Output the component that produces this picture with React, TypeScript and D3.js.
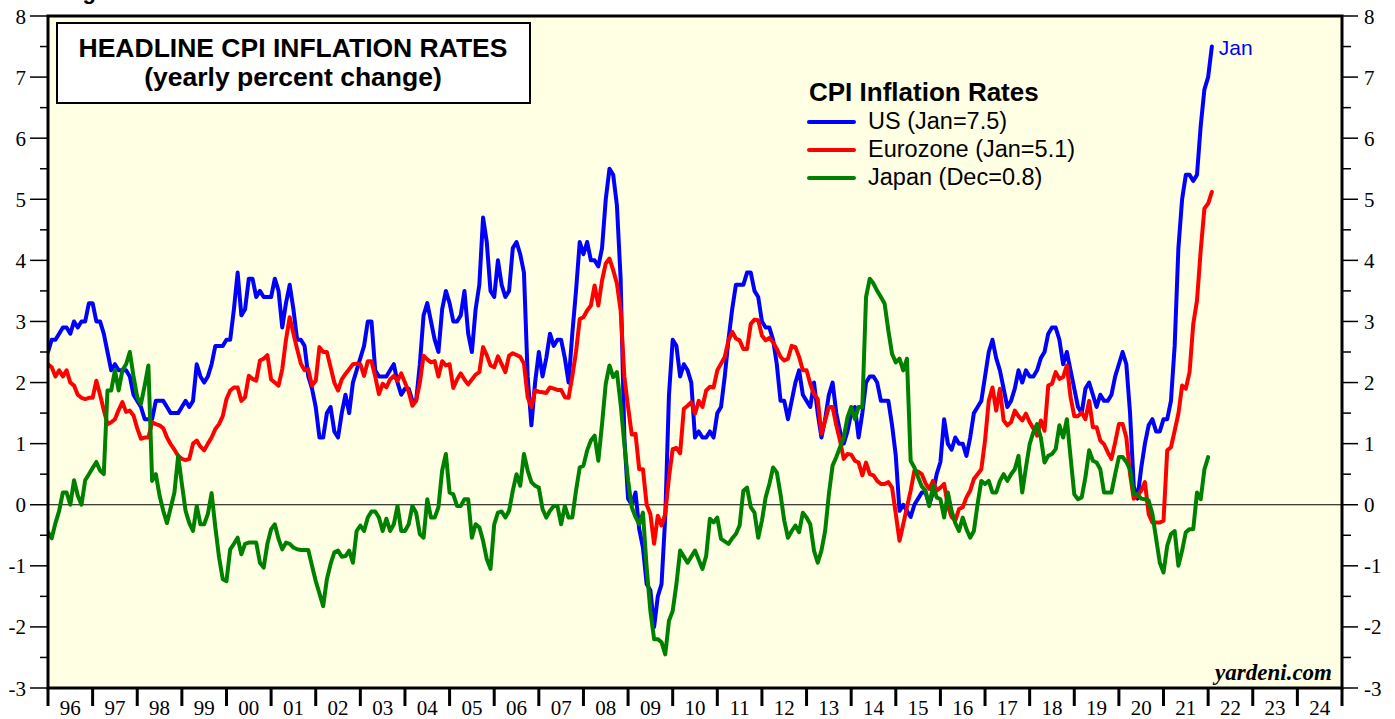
import * as d3 from 'd3'

// yearly % change, monthly, first value is Dec 1995
const usCpi = [
  2.5,
  2.7, 2.7, 2.8, 2.9, 2.9, 2.8, 3.0, 2.9, 3.0, 3.0, 3.3, 3.3, // 96
  3.0, 3.0, 2.8, 2.5, 2.2, 2.3, 2.2, 2.2, 2.2, 2.1, 1.8, 1.7, // 97
  1.6, 1.4, 1.4, 1.4, 1.7, 1.7, 1.7, 1.6, 1.5, 1.5, 1.5, 1.6, // 98
  1.7, 1.6, 1.7, 2.3, 2.1, 2.0, 2.1, 2.3, 2.6, 2.6, 2.6, 2.7, // 99
  2.7, 3.2, 3.8, 3.1, 3.2, 3.7, 3.7, 3.4, 3.5, 3.4, 3.4, 3.4, // 00
  3.7, 3.5, 2.9, 3.3, 3.6, 3.2, 2.7, 2.7, 2.6, 2.1, 1.9, 1.6, // 01
  1.1, 1.1, 1.5, 1.6, 1.2, 1.1, 1.5, 1.8, 1.5, 2.0, 2.2, 2.4, // 02
  2.6, 3.0, 3.0, 2.2, 2.1, 2.1, 2.1, 2.2, 2.3, 2.0, 1.8, 1.9, // 03
  1.9, 1.7, 1.7, 2.3, 3.1, 3.3, 3.0, 2.7, 2.5, 3.2, 3.5, 3.3, // 04
  3.0, 3.0, 3.1, 3.5, 2.8, 2.5, 3.2, 3.6, 4.7, 4.3, 3.5, 3.4, // 05
  4.0, 3.6, 3.4, 3.5, 4.2, 4.3, 4.1, 3.8, 2.1, 1.3, 2.0, 2.5, // 06
  2.1, 2.4, 2.8, 2.6, 2.7, 2.7, 2.4, 2.0, 2.8, 3.5, 4.3, 4.1, // 07
  4.3, 4.0, 4.0, 3.9, 4.2, 5.0, 5.5, 5.4, 4.9, 3.7, 1.1, 0.1, // 08
  0.0, 0.2, -0.4, -0.7, -1.3, -1.4, -2.0, -1.5, -1.3, -0.2, 1.8, 2.7, // 09
  2.6, 2.1, 2.3, 2.2, 2.0, 1.1, 1.2, 1.1, 1.1, 1.2, 1.1, 1.5, // 10
  1.6, 2.1, 2.7, 3.2, 3.6, 3.6, 3.6, 3.8, 3.8, 3.5, 3.4, 3.0, // 11
  2.9, 2.9, 2.7, 2.3, 1.7, 1.7, 1.4, 1.7, 2.0, 2.2, 1.8, 1.7, // 12
  1.6, 2.0, 1.5, 1.1, 1.4, 1.8, 2.0, 1.5, 1.2, 1.0, 1.2, 1.5, // 13
  1.6, 1.1, 1.5, 2.0, 2.1, 2.1, 2.0, 1.7, 1.7, 1.7, 1.3, 0.8, // 14
  -0.1, 0.0, -0.1, -0.2, 0.0, 0.1, 0.2, 0.2, 0.0, 0.2, 0.5, 0.7, // 15
  1.4, 1.0, 0.9, 1.1, 1.0, 1.0, 0.8, 1.1, 1.5, 1.6, 1.7, 2.1, // 16
  2.5, 2.7, 2.4, 2.2, 1.9, 1.6, 1.7, 1.9, 2.2, 2.0, 2.2, 2.1, // 17
  2.1, 2.2, 2.4, 2.5, 2.8, 2.9, 2.9, 2.7, 2.3, 2.5, 2.2, 1.9, // 18
  1.6, 1.5, 1.9, 2.0, 1.8, 1.6, 1.8, 1.7, 1.7, 1.8, 2.1, 2.3, // 19
  2.5, 2.3, 1.5, 0.3, 0.1, 0.6, 1.0, 1.3, 1.4, 1.2, 1.2, 1.4, // 20
  1.4, 1.7, 2.6, 4.2, 5.0, 5.4, 5.4, 5.3, 5.4, 6.2, 6.8, 7.0, // 21
  7.5, // 22
]

const ezCpi = [
  2.3,
  2.25, 2.1, 2.2, 2.1, 2.2, 2.0, 1.95, 1.8, 1.75, 1.73, 1.75, 1.75, // 96
  2.03, 1.8, 1.55, 1.32, 1.35, 1.4, 1.55, 1.68, 1.52, 1.54, 1.46, 1.25, // 97
  1.08, 1.1, 1.1, 1.35, 1.32, 1.3, 1.25, 1.1, 0.99, 0.9, 0.8, 0.75, // 98
  0.73, 0.75, 1.0, 1.05, 0.95, 0.89, 1.0, 1.1, 1.24, 1.32, 1.45, 1.73, // 99
  1.87, 1.92, 1.92, 1.7, 1.76, 2.11, 2.06, 2.03, 2.36, 2.39, 2.45, 2.05, // 00
  2.0, 1.95, 2.22, 2.7, 3.07, 2.8, 2.55, 2.31, 2.2, 2.22, 1.95, 2.03, // 01
  2.58, 2.5, 2.5, 2.25, 2.0, 1.87, 2.05, 2.14, 2.22, 2.3, 2.31, 2.3, // 02
  2.11, 2.35, 2.35, 2.1, 1.81, 1.98, 1.92, 2.05, 2.11, 2.03, 2.15, 2.0, // 03
  1.85, 1.62, 1.7, 2.0, 2.44, 2.38, 2.33, 2.35, 2.1, 2.35, 2.28, 2.3, // 04
  1.91, 2.05, 2.15, 2.05, 1.97, 2.05, 2.13, 2.17, 2.58, 2.45, 2.28, 2.25, // 05
  2.43, 2.3, 2.17, 2.44, 2.48, 2.45, 2.42, 2.31, 1.76, 1.6, 1.87, 1.85, // 06
  1.84, 1.83, 1.92, 1.9, 1.88, 1.88, 1.76, 1.75, 2.1, 2.5, 3.04, 3.07, // 07
  3.18, 3.26, 3.59, 3.26, 3.67, 3.95, 4.03, 3.84, 3.62, 3.18, 2.1, 1.6, // 08
  1.15, 1.16, 0.58, 0.58, 0.0, -0.15, -0.64, -0.18, -0.34, -0.15, 0.45, 0.91, // 09
  0.93, 0.84, 1.57, 1.62, 1.68, 1.49, 1.7, 1.6, 1.87, 1.93, 1.92, 2.2, // 10
  2.31, 2.42, 2.69, 2.83, 2.72, 2.69, 2.55, 2.55, 2.96, 3.03, 3.02, 2.77, // 11
  2.69, 2.73, 2.66, 2.55, 2.42, 2.36, 2.39, 2.6, 2.58, 2.42, 2.2, 2.2, // 12
  1.98, 1.81, 1.73, 1.16, 1.38, 1.6, 1.6, 1.3, 1.05, 0.75, 0.83, 0.82, // 13
  0.72, 0.69, 0.48, 0.69, 0.5, 0.48, 0.39, 0.34, 0.34, 0.37, 0.28, -0.15, // 14
  -0.59, -0.32, -0.04, 0.23, 0.56, 0.54, 0.5, 0.35, 0.26, 0.39, 0.23, 0.28, // 15
  0.34, -0.02, -0.2, -0.26, -0.07, -0.04, 0.12, 0.23, 0.42, 0.5, 0.58, 1.05, // 16
  1.7, 1.92, 1.54, 1.9, 1.38, 1.3, 1.35, 1.54, 1.45, 1.38, 1.49, 1.35, // 17
  1.25, 1.13, 1.38, 1.21, 1.95, 1.98, 2.17, 2.06, 2.09, 2.28, 1.76, 1.45, // 18
  1.45, 1.51, 1.4, 1.7, 1.27, 1.27, 1.05, 0.99, 0.86, 0.75, 1.02, 1.32, // 19
  1.32, 1.1, 0.5, 0.1, 0.15, 0.23, 0.37, -0.15, -0.29, -0.29, -0.29, -0.26, // 20
  0.89, 0.94, 1.21, 1.49, 1.95, 1.9, 2.17, 2.96, 3.34, 4.16, 4.85, 4.93, // 21
  5.12, // 22
]

const jpCpi = [
  -0.45,
  -0.55, -0.3, -0.1, 0.2, 0.2, 0.0, 0.4, 0.15, 0.0, 0.4, 0.5, 0.6, // 96
  0.7, 0.56, 0.5, 1.87, 1.87, 2.2, 1.87, 2.2, 2.3, 2.5, 2.1, 1.76, // 97
  1.65, 1.95, 2.28, 0.39, 0.5, 0.15, -0.1, -0.3, -0.05, 0.2, 0.8, 0.34, // 98
  -0.1, -0.3, -0.43, -0.02, -0.32, -0.32, -0.15, 0.19, -0.37, -0.86, -1.22, -1.25, // 99
  -0.73, -0.64, -0.54, -0.81, -0.64, -0.62, -0.62, -0.62, -0.95, -1.03, -0.64, -0.4, // 00
  -0.32, -0.56, -0.73, -0.62, -0.64, -0.7, -0.73, -0.74, -0.74, -0.74, -1.0, -1.25, // 01
  -1.45, -1.66, -1.22, -0.97, -0.78, -0.75, -0.85, -0.84, -0.75, -0.95, -0.43, -0.34, // 02
  -0.43, -0.21, -0.11, -0.11, -0.21, -0.43, -0.23, -0.43, -0.32, -0.02, -0.43, -0.43, // 03
  -0.32, -0.02, -0.13, -0.48, -0.54, 0.09, -0.21, -0.21, -0.04, 0.56, 0.83, 0.2, // 04
  0.17, -0.02, -0.02, 0.09, 0.09, -0.54, -0.32, -0.37, -0.59, -0.89, -1.05, -0.32, // 05
  -0.13, -0.11, -0.21, -0.1, 0.23, 0.5, 0.31, 0.83, 0.56, 0.37, 0.31, 0.28, // 06
  -0.07, -0.21, -0.1, -0.02, -0.02, -0.32, -0.02, -0.21, -0.21, 0.23, 0.61, 0.64, // 07
  0.89, 1.05, 1.13, 0.72, 1.32, 1.98, 2.28, 2.09, 2.17, 1.65, 0.99, 0.4, // 08
  -0.04, -0.2, -0.32, -0.13, -1.03, -1.74, -2.2, -2.2, -2.25, -2.45, -1.9, -1.74, // 09
  -1.3, -0.75, -0.85, -0.95, -0.85, -0.75, -0.9, -1.05, -0.84, -0.23, -0.29, -0.21, // 10
  -0.56, -0.6, -0.64, -0.55, -0.48, -0.34, 0.23, 0.28, -0.04, -0.13, -0.54, -0.26, // 11
  0.12, 0.34, 0.61, 0.53, 0.17, -0.26, -0.54, -0.43, -0.34, -0.45, -0.13, -0.21, // 12
  -0.32, -0.75, -0.95, -0.75, -0.43, 0.17, 0.64, 0.78, 0.94, 1.1, 1.43, 1.6, // 13
  1.4, 1.6, 1.6, 3.4, 3.7, 3.62, 3.5, 3.4, 3.29, 2.85, 2.47, 2.33, // 14
  2.39, 2.2, 2.39, 0.72, 0.61, 0.45, 0.3, 0.23, -0.02, 0.31, 0.12, 0.09, // 15
  -0.21, 0.2, -0.1, -0.3, -0.43, -0.21, -0.4, -0.54, -0.43, 0.01, 0.39, 0.34, // 16
  0.39, 0.2, 0.2, 0.39, 0.5, 0.39, 0.5, 0.58, 0.8, 0.2, 0.61, 0.99, // 17
  1.19, 1.32, 1.1, 0.69, 0.8, 0.83, 0.91, 1.3, 1.1, 1.4, 0.78, 0.17, // 18
  0.09, 0.12, 0.45, 0.89, 0.72, 0.69, 0.58, 0.2, 0.2, 0.2, 0.5, 0.78, // 19
  0.78, 0.7, 0.58, 0.17, 0.17, 0.1, 0.09, 0.07, -0.15, -0.55, -0.95, -1.11, // 20
  -0.67, -0.48, -0.43, -1.0, -0.75, -0.45, -0.4, -0.4, 0.2, 0.09, 0.58, 0.78, // 21
]

const yearLabels = ['96', '97', '98', '99', '00', '01', '02', '03', '04', '05', '06', '07', '08', '09',
  '10', '11', '12', '13', '14', '15', '16', '17', '18', '19', '20', '21', '22', '23', '24']
const legendLabels = ['US (Jan=7.5)', 'Eurozone (Jan=5.1)', 'Japan (Dec=0.8)']
const colors = ['#0000ff', '#ff0000', '#008000']

const serif = '"Liberation Serif", "Times New Roman", serif'
const sans = '"Liberation Sans", Arial, sans-serif'

export default function App() {
  const width = 1395, height = 719
  const left = 48, right = 1342, top = 16, bottom = 688

  const x = d3.scaleLinear().domain([1996, 2025]).range([left, right])
  const y = d3.scaleLinear().domain([-3, 8]).range([bottom, top])

  // each value sits at the end of its month, Dec 1995 at the start of 1996
  const line = d3.line<number>()
    .x((_, i) => x(1996 + i / 12))
    .y((d) => y(d))

  const series = [usCpi, ezCpi, jpCpi]
  const yMajor = d3.range(-3, 9)
  const yMinor = d3.range(-2.5, 8, 1)
  const yearEdges = d3.range(1996, 2026)

  const lastUs = usCpi[usCpi.length - 1]
  const lastX = x(1996 + (usCpi.length - 1) / 12)

  return (
    <svg width={width} height={height} style={{ position: 'absolute', left: 0, top: 0, background: '#fff' }}>
      <defs>
        <clipPath id="plot">
          <rect x={left} y={top} width={right - left} height={bottom - top} />
        </clipPath>
      </defs>

      <text x={63} y={-1} fontFamily={sans} fontWeight="bold" fontSize={22}>Figure 1.</text>

      <rect x={left} y={top} width={right - left} height={bottom - top} fill="#ffffe3" />

      {/* zero line */}
      <line x1={left} x2={right} y1={y(0)} y2={y(0)} stroke="#000" strokeWidth={1.2} />

      {/* title box */}
      <rect x={57} y={23} width={473} height={80} fill="#fff" stroke="#000" strokeWidth={2} />
      <text x={293} y={57} textAnchor="middle" fontFamily={sans} fontWeight="bold" fontSize={26.5}>
        HEADLINE CPI INFLATION RATES
      </text>
      <text x={293} y={86} textAnchor="middle" fontFamily={sans} fontWeight="bold" fontSize={26.5}>
        (yearly percent change)
      </text>

      {/* legend */}
      <text x={809} y={101} fontFamily={sans} fontWeight="bold" fontSize={26}>CPI Inflation Rates</text>
      {legendLabels.map((label, i) => (
        <g key={label}>
          <line x1={809} x2={854} y1={122 + i * 28} y2={122 + i * 28} stroke={colors[i]} strokeWidth={4} strokeLinecap="round" />
          <text x={868} y={129 + i * 28} fontFamily={sans} fontSize={23.5}>{label}</text>
        </g>
      ))}

      <g clipPath="url(#plot)">
        {series.map((s, i) => (
          <path key={i} d={line(s) ?? ''} fill="none" stroke={colors[i]} strokeWidth={4}
            strokeLinejoin="round" strokeLinecap="round" />
        ))}
      </g>

      <text x={lastX + 7} y={y(lastUs) + 8} fontFamily={sans} fontSize={21} fill="#0000ff">Jan</text>

      <text x={1332} y={680} textAnchor="end" fontFamily={serif} fontWeight="bold" fontStyle="italic" fontSize={23}>
        yardeni.com
      </text>

      {/* frame */}
      <rect x={left} y={top} width={right - left} height={bottom - top} fill="none" stroke="#000" strokeWidth={3} />

      {/* y axes */}
      {yMajor.map((v) => (
        <g key={'M' + v}>
          <line x1={30} x2={left} y1={y(v)} y2={y(v)} stroke="#000" strokeWidth={1.5} />
          <line x1={right} x2={1358} y1={y(v)} y2={y(v)} stroke="#000" strokeWidth={1.5} />
          <text x={26} y={y(v)} dy="0.36em" textAnchor="end" fontFamily={serif} fontSize={21}>{v}</text>
          <text x={1364} y={y(v)} dy="0.36em" fontFamily={serif} fontSize={21}>{v}</text>
        </g>
      ))}
      {yMinor.map((v) => (
        <g key={'m' + v}>
          <line x1={40} x2={left} y1={y(v)} y2={y(v)} stroke="#000" strokeWidth={1.5} />
          <line x1={right} x2={1351} y1={y(v)} y2={y(v)} stroke="#000" strokeWidth={1.5} />
        </g>
      ))}

      {/* x axis */}
      {yearEdges.map((yr) => (
        <line key={yr} x1={x(yr)} x2={x(yr)} y1={bottom} y2={706} stroke="#000" strokeWidth={3} />
      ))}
      {yearLabels.map((lab, i) => (
        <text key={lab} x={x(1996 + i + 0.5)} y={715} textAnchor="middle" fontFamily={serif} fontSize={21}>{lab}</text>
      ))}
    </svg>
  )
}
